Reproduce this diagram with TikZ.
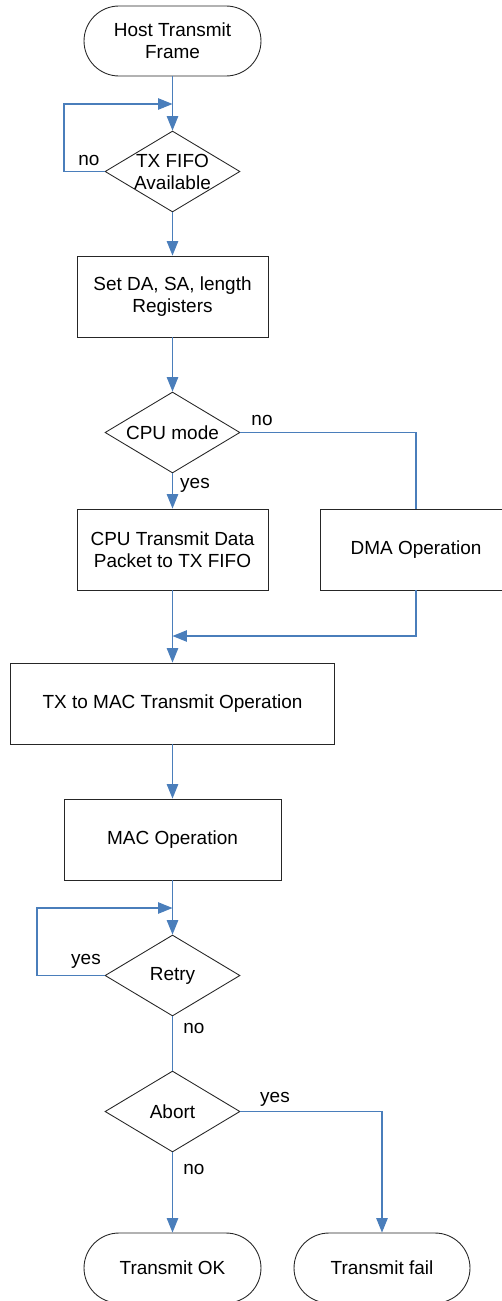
\documentclass[tikz,border=0pt]{standalone}
\usepackage{fontspec}
\setmainfont{Liberation Sans}
\usetikzlibrary{shapes.geometric,arrows.meta}
\definecolor{flowblue}{RGB}{74,126,187}
\tikzset{
  chartfont/.style={font=\fontsize{10.8}{12.5}\selectfont},
  terminal/.style={chartfont, draw=black!85, line width=0.5pt, rounded corners=0.7cm,
    minimum width=3.54cm, minimum height=1.4cm, align=center, inner sep=0pt},
  process/.style={chartfont, draw=black!85, line width=0.5pt, minimum height=1.62cm,
    align=center, inner sep=0pt},
  decision/.style={draw=black!85, line width=0.5pt, diamond, minimum width=2.7cm,
    minimum height=1.62cm, inner sep=0pt},
  flow/.style={flowblue, line width=0.6pt, -{Triangle[length=0.29cm,width=0.23cm]}},
  plainflow/.style={flowblue, line width=0.6pt},
  branch/.style={chartfont, anchor=base, inner sep=0pt},
}

\begin{document}
\begin{tikzpicture}[x=0.02cm, y=-0.02cm]
\useasboundingbox (0,0) rectangle (501,1301);

\coordinate (fifojoin) at (172.5,104);
\coordinate (fifoloop) at (64,104);
\coordinate (mergejoin) at (172.5,636);
\coordinate (retryjoin) at (172.5,908);
\coordinate (retryloop) at (37,908);

\node[terminal] (start) at (172.5,41) {Host Transmit\\Frame};
\node[decision, label={[chartfont,align=center]center:{TX FIFO\\Available}}] (fifo) at (172.5,171.5) {};
\node[process, minimum width=3.82cm] (setda) at (172.5,296.5) {Set DA, SA, length\\Registers};
\node[decision, label={[chartfont]center:CPU mode}] (cpumode) at (172.5,432.5) {};
\node[process, minimum width=3.82cm] (cpubox) at (172.5,549.5) {CPU Transmit Data\\Packet to TX FIFO};
\node[process, minimum width=3.84cm] (dma) at (416,549.5) {DMA Operation};
\node[process, minimum width=6.48cm] (txmac) at (172.5,703.5) {TX to MAC Transmit Operation};
\node[process, minimum width=4.34cm] (macop) at (172.5,839.5) {MAC Operation};
\node[decision, label={[chartfont]center:Retry}] (retry) at (172.5,975.5) {};
\node[decision, label={[chartfont]center:Abort}] (abort) at (172.5,1111.5) {};
\node[terminal] (ok) at (172.5,1268) {Transmit OK};
\node[terminal, minimum width=3.52cm] (fail) at (382,1268) {Transmit fail};

% branch labels
\node[branch] (fifono) at (89,165) {no};
\node[branch] (cpuno) at (262,425) {no};
\node[branch] (cpuyes) at (195,488) {yes};
\node[branch] (retryyes) at (86,964) {yes};
\node[branch] (retryno) at (194,1033) {no};
\node[branch] (abortyes) at (275,1102) {yes};
\node[branch] (abortno) at (194,1174) {no};

\draw[flow] (start) -- (fifo);
\draw[flow] (fifo.west) -| (fifoloop) -- (fifojoin);
\draw[flow] (fifo) -- (setda);
\draw[flow] (setda) -- (cpumode);
\draw[flow] (cpumode) -- (cpubox);
\draw[plainflow] (cpumode.east) -| (dma.north);
\draw[flow] (cpubox) -- (txmac);
\draw[flow] (dma.south) |- (mergejoin);
\draw[flow] (txmac) -- (macop);
\draw[flow] (macop) -- (retry);
\draw[flow] (retry.west) -| (retryloop) -- (retryjoin);
\draw[plainflow] (retry) -- (abort);
\draw[flow] (abort) -- (ok);
\draw[flow] (abort.east) -| (fail.north);

\end{tikzpicture}
\end{document}
